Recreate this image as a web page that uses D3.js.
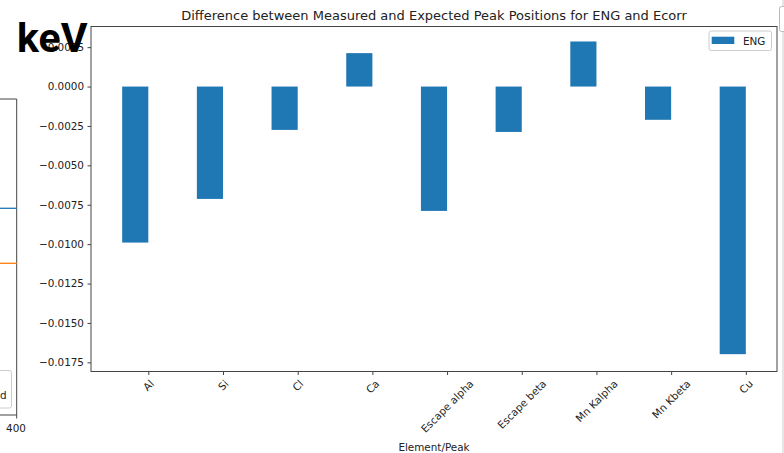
<!DOCTYPE html>
<html>
<head>
<meta charset="utf-8">
<script src="https://cdn.jsdelivr.net/npm/d3@7"></script>
<style>
  html, body { margin: 0; padding: 0; background: #fff; }
  svg { display: block; }
  text { font-family: "DejaVu Sans", sans-serif; fill: #222; }
</style>
</head>
<body>
<svg id="chart" width="784" height="453"></svg>
<script>
// Peak-position differences (measured − expected), in keV
const categories = ["Al", "Si", "Cl", "Ca", "Escape alpha", "Escape beta", "Mn Kalpha", "Mn Kbeta", "Cu"];
const engDiff = [-0.0099, -0.00713, -0.00275, 0.00212, -0.00789, -0.00288, 0.00286, -0.00211, -0.01698];
const yTicks = [0.0025, 0, -0.0025, -0.005, -0.0075, -0.01, -0.0125, -0.015, -0.0175];
const seriesName = "ENG";

const svg = d3.select("#chart");
const W = 784, H = 453;
const plot = { left: 91, right: 777, top: 26.5, bottom: 371.5 };
const barWidth = 0.35;
const barColor = "#1f77b4";
const axisColor = "#444";

// Neighbouring figure pieces around the main axes
const side = svg.append("g");
side.append("path").attr("d", "M0,99H16.7V415H0").attr("fill", "none").attr("stroke", axisColor).attr("stroke-width", 1);
side.append("line").attr("x1", 0).attr("x2", 16.7).attr("y1", 208.3).attr("y2", 208.3).attr("stroke", "#1f77b4").attr("stroke-width", 1.3);
side.append("line").attr("x1", 0).attr("x2", 16.7).attr("y1", 263.3).attr("y2", 263.3).attr("stroke", "#ff7f0e").attr("stroke-width", 1.3);
side.append("path").attr("d", "M0,370.5H9.5Q11.5,370.5 11.5,372.5V406Q11.5,408 9.5,408H0").attr("fill", "#fff").attr("stroke", "#ccc");
side.append("text").attr("x", 0).attr("y", 399).attr("font-size", 10.4).text("d");
side.append("line").attr("x1", 16.7).attr("x2", 16.7).attr("y1", 415).attr("y2", 418.5).attr("stroke", axisColor);
side.append("text").attr("x", 16).attr("y", 431.5).attr("font-size", 10.4).attr("text-anchor", "middle").text("400");
side.append("line").attr("x1", 783).attr("x2", 783).attr("y1", 0).attr("y2", H).attr("stroke", "#ccc");
side.append("rect").attr("x", 779.5).attr("y", 6.5).attr("width", 8).attr("height", 25).attr("rx", 2).attr("fill", "#fff").attr("stroke", "#bbb");

// Scales
const x = d3.scaleLinear().domain([-0.7675, 8.4175]).range([plot.left, plot.right]);
const y = d3.scaleLinear().domain([-0.01808, 0.00381]).range([plot.bottom, plot.top]);

// Bars sit just left of each category tick (first member of a grouped pair)
svg.append("g").selectAll("rect").data(engDiff).join("rect")
  .attr("x", (d, i) => x(i - barWidth))
  .attr("width", (d, i) => x(i) - x(i - barWidth))
  .attr("y", d => y(Math.max(0, d)))
  .attr("height", d => Math.abs(y(d) - y(0)))
  .attr("fill", barColor);

// Y axis
const yAxis = d3.axisLeft(y).tickValues(yTicks).tickFormat(d3.format(".4f")).tickSize(3.5).tickPadding(3.5);
const gy = svg.append("g").attr("transform", `translate(${plot.left},0)`).call(yAxis);
gy.select(".domain").remove();
gy.selectAll("line").attr("stroke", axisColor);
gy.selectAll("text").attr("font-size", 10.4).attr("fill", "#222").style("font-family", "DejaVu Sans, sans-serif");

// X axis ticks
const xAxis = d3.axisBottom(x).tickValues(d3.range(categories.length)).tickFormat(() => "").tickSize(3.5);
const gx = svg.append("g").attr("transform", `translate(0,${plot.bottom})`).call(xAxis);
gx.select(".domain").remove();
gx.selectAll("line").attr("stroke", axisColor);

// Rotated category labels, bounding box centred under each tick
const labelTop = plot.bottom + 7;
const labels = svg.append("g").selectAll("text").data(categories).join("text")
  .attr("font-size", 10.4)
  .attr("text-anchor", "middle")
  .attr("dominant-baseline", "central")
  .text(d => d);
labels.each(function(d, i) {
  const w = this.getComputedTextLength();
  const h = 10.4 * 0.85;
  const half = (w + h) / (2 * Math.SQRT2);
  const cx = x(i), cy = labelTop + half;
  d3.select(this).attr("x", cx).attr("y", cy).attr("transform", `rotate(-45,${cx},${cy})`);
});

// Frame
svg.append("rect")
  .attr("x", plot.left).attr("y", plot.top)
  .attr("width", plot.right - plot.left).attr("height", plot.bottom - plot.top)
  .attr("fill", "none").attr("stroke", axisColor).attr("stroke-width", 1);

// Title and axis label
svg.append("text").attr("x", (plot.left + plot.right) / 2).attr("y", 19.5)
  .attr("text-anchor", "middle").attr("font-size", 13)
  .text("Difference between Measured and Expected Peak Positions for ENG and Ecorr");
svg.append("text").attr("x", (plot.left + plot.right) / 2).attr("y", 451)
  .attr("text-anchor", "middle").attr("font-size", 10.4).text("Element/Peak");

// Legend
const lg = svg.append("g");
lg.append("rect").attr("x", 709).attr("y", 31).attr("width", 62.5).attr("height", 19.5).attr("rx", 2)
  .attr("fill", "#fff").attr("fill-opacity", 0.8).attr("stroke", "#ccc");
lg.append("rect").attr("x", 711.7).attr("y", 36.7).attr("width", 22.6).attr("height", 7.3).attr("fill", barColor);
lg.append("text").attr("x", 743).attr("y", 44.5).attr("font-size", 10.4).text(seriesName);

// Large unit label overlapping the axes corner
svg.append("text").attr("x", 17).attr("y", 52).attr("font-size", 41).attr("font-weight", "bold")
  .style("font-family", "Roboto, sans-serif").style("fill", "#000").text("keV");
</script>
</body>
</html>
